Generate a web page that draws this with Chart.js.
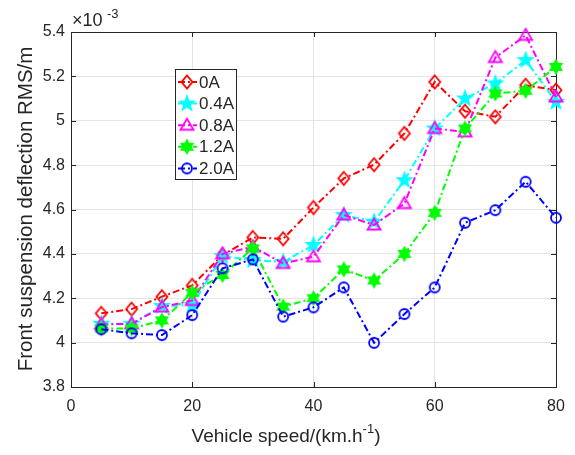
<!DOCTYPE html>
<html lang="en">
<head>
<meta charset="UTF-8">
<title>Front suspension deflection vs vehicle speed</title>
<script src="https://cdn.jsdelivr.net/npm/chart.js"></script>
<style>
  body { margin: 0; background: #fff; }
  .chart-box { width: 575px; height: 455px; }
</style>
</head>
<body>
<div class="chart-box"><canvas id="myChart" width="575" height="455"></canvas></div>
<script>
// values are in units of 1e-3 m (axis shows x10^-3)
var speeds = [5, 10, 15, 20, 25, 30, 35, 40, 45, 50, 55, 60, 65, 70, 75, 80];
var xTicks = [0, 20, 40, 60, 80];
var yTicks = [3.8, 4, 4.2, 4.4, 4.6, 4.8, 5, 5.2, 5.4];
var seriesNames = ['0A', '0.4A', '0.8A', '1.2A', '2.0A'];

var rms0A  = [4.132, 4.151, 4.207, 4.258, 4.395, 4.474, 4.468, 4.609, 4.740, 4.802, 4.943, 5.175, 5.043, 5.018, 5.160, 5.138];
var rms04A = [4.085, 4.085, 4.165, 4.170, 4.390, 4.372, 4.364, 4.440, 4.575, 4.545, 4.732, 4.965, 5.100, 5.168, 5.273, 5.085];
var rms08A = [4.082, 4.085, 4.160, 4.190, 4.400, 4.432, 4.357, 4.387, 4.575, 4.530, 4.627, 4.965, 4.950, 5.285, 5.385, 5.107];
var rms12A = [4.064, 4.064, 4.100, 4.225, 4.305, 4.425, 4.162, 4.200, 4.330, 4.280, 4.400, 4.585, 4.965, 5.123, 5.135, 5.243];
var rms20A = [4.060, 4.042, 4.034, 4.124, 4.335, 4.375, 4.117, 4.159, 4.249, 3.999, 4.129, 4.249, 4.540, 4.597, 4.725, 4.563];

var colors = ['#ff0000', '#00ffff', '#ff00ff', '#00ff00', '#0000ff'];
var axisColor = '#262626';
var fontFam = '"Liberation Sans", Arial, Helvetica, sans-serif';

// marker images, drawn like matlab markers
function makeMarker(kind, color) {
    var c = document.createElement('canvas');
    c.width = 20; c.height = 20;
    var g = c.getContext('2d');
    var cx = 10, cy = 10;
    g.strokeStyle = color;
    g.fillStyle = color;
    g.lineWidth = 1.8;
    g.beginPath();
    if (kind == 'diamond') {
        g.moveTo(cx, cy - 6.5); g.lineTo(cx + 5.5, cy); g.lineTo(cx, cy + 6.5); g.lineTo(cx - 5.5, cy);
        g.closePath(); g.stroke();
    } else if (kind == 'triangle') {
        g.moveTo(cx, cy - 6.5); g.lineTo(cx + 6.5, cy + 4.5); g.lineTo(cx - 6.5, cy + 4.5);
        g.closePath(); g.stroke();
    } else if (kind == 'circle') {
        g.arc(cx, cy, 5, 0, Math.PI * 2); g.stroke();
    } else {
        var n = kind == 'pentagram' ? 5 : 6;
        var ro = kind == 'pentagram' ? 8 : 7;
        var ri = kind == 'pentagram' ? 3.3 : 4;
        for (var i = 0; i < n * 2; i++) {
            var r = i % 2 == 0 ? ro : ri;
            var a = -Math.PI / 2 + i * Math.PI / n;
            var px = cx + r * Math.cos(a), py = cy + r * Math.sin(a);
            if (i == 0) g.moveTo(px, py); else g.lineTo(px, py);
        }
        g.closePath();
        g.lineWidth = 1.2;
        g.fill(); g.stroke();
    }
    return c;
}

var markerKinds = ['diamond', 'pentagram', 'triangle', 'hexagram', 'circle'];
var markers = markerKinds.map(function (k, i) { return makeMarker(k, colors[i]); });
var allSeries = [rms0A, rms04A, rms08A, rms12A, rms20A];
var dashPattern = [7, 3, 2, 3];

var datasets = allSeries.map(function (arr, i) {
    return {
        label: seriesNames[i],
        data: speeds.map(function (s, j) { return { x: s, y: arr[j] }; }),
        borderColor: colors[i],
        borderWidth: 2,
        borderDash: dashPattern,
        fill: false,
        tension: 0,
        pointStyle: markers[i],
        pointRadius: 5,
        clip: false,
        order: 5 - i
    };
});

var framePlugin = {
    id: 'frame',
    beforeDatasetsDraw: function (chart) {
        var ctx = chart.ctx, a = chart.chartArea;
        var xs = chart.scales.x, ys = chart.scales.y;
        ctx.save();
        ctx.strokeStyle = axisColor;
        ctx.lineWidth = 1;
        ctx.strokeRect(a.left + 0.5, a.top + 0.5, a.right - a.left, a.bottom - a.top);
        ctx.beginPath();
        xTicks.forEach(function (v) {
            var px = Math.round(xs.getPixelForValue(v)) + 0.5;
            ctx.moveTo(px, a.bottom); ctx.lineTo(px, a.bottom - 5);
            ctx.moveTo(px, a.top); ctx.lineTo(px, a.top + 5);
        });
        yTicks.forEach(function (v) {
            var py = Math.round(ys.getPixelForValue(v)) + 0.5;
            ctx.moveTo(a.left, py); ctx.lineTo(a.left + 5, py);
            ctx.moveTo(a.right, py); ctx.lineTo(a.right - 5, py);
        });
        ctx.stroke();
        ctx.restore();
    },
    afterDraw: function (chart) {
        var ctx = chart.ctx;
        ctx.save();
        ctx.fillStyle = axisColor;

        // exponent label
        ctx.textBaseline = 'alphabetic';
        ctx.textAlign = 'left';
        ctx.font = '18px ' + fontFam;
        ctx.fillText('\u00d710', 72, 26);
        ctx.font = '13px ' + fontFam;
        ctx.fillText('-3', 107, 18);

        // y title
        ctx.save();
        ctx.translate(32, 209);
        ctx.rotate(-Math.PI / 2);
        ctx.font = '20.5px ' + fontFam;
        ctx.textAlign = 'center';
        ctx.fillText('Front suspension deflection RMS/m', 0, 0);
        ctx.restore();

        // x title with superscript
        ctx.font = '19px ' + fontFam;
        var t1 = 'Vehicle speed/(km.h', t3 = ')';
        var w1 = ctx.measureText(t1).width, w3 = ctx.measureText(t3).width;
        ctx.font = '13px ' + fontFam;
        var w2 = ctx.measureText('-1').width;
        var x0 = 286 - (w1 + w2 + w3) / 2;
        ctx.font = '19px ' + fontFam;
        ctx.fillText(t1, x0, 442);
        ctx.fillText(t3, x0 + w1 + w2, 442);
        ctx.font = '13px ' + fontFam;
        ctx.fillText('-1', x0 + w1, 433);

        // legend box
        var bx = 175.5, by = 69.5, bw = 61, bh = 110;
        ctx.fillStyle = '#fff';
        ctx.fillRect(bx, by, bw, bh);
        ctx.strokeStyle = axisColor;
        ctx.lineWidth = 1;
        ctx.strokeRect(bx, by, bw, bh);
        ctx.font = '17px ' + fontFam;
        ctx.textBaseline = 'middle';
        seriesNames.forEach(function (name, i) {
            var y = 82 + i * 21.6;
            ctx.strokeStyle = colors[i];
            ctx.lineWidth = 2;
            ctx.setLineDash(dashPattern);
            ctx.beginPath();
            ctx.moveTo(178, y); ctx.lineTo(197, y);
            ctx.stroke();
            ctx.setLineDash([]);
            ctx.drawImage(markers[i], 187 - 10, y - 10);
            ctx.fillStyle = axisColor;
            ctx.fillText(name, 199, y + 1);
        });
        ctx.restore();
    }
};

var ctx = document.getElementById('myChart').getContext('2d');
var myChart = new Chart(ctx, {
    type: 'line',
    data: { datasets: datasets },
    options: {
        responsive: false,
        animation: false,
        layout: { padding: { left: 0, right: 19, top: 32, bottom: 0 } },
        plugins: { legend: { display: false }, tooltip: { enabled: false } },
        scales: {
            x: {
                type: 'linear',
                min: 0, max: 80,
                afterBuildTicks: function (s) { s.ticks = xTicks.map(function (v) { return { value: v }; }); },
                afterFit: function (s) { s.height = 68; },
                grid: { color: '#e4e4e4', drawTicks: false },
                border: { color: axisColor },
                ticks: { padding: 10, color: axisColor, font: { family: fontFam, size: 16 } }
            },
            y: {
                min: 3.8, max: 5.4,
                afterBuildTicks: function (s) { s.ticks = yTicks.map(function (v) { return { value: v }; }); },
                afterFit: function (s) { s.width = 71; },
                grid: { color: '#e4e4e4', drawTicks: false },
                border: { color: axisColor },
                ticks: {
                    padding: 6, color: axisColor, font: { family: fontFam, size: 16 },
                    callback: function (v) { return String(parseFloat(v.toFixed(1))); }
                }
            }
        }
    },
    plugins: [framePlugin]
});
</script>
</body>
</html>
